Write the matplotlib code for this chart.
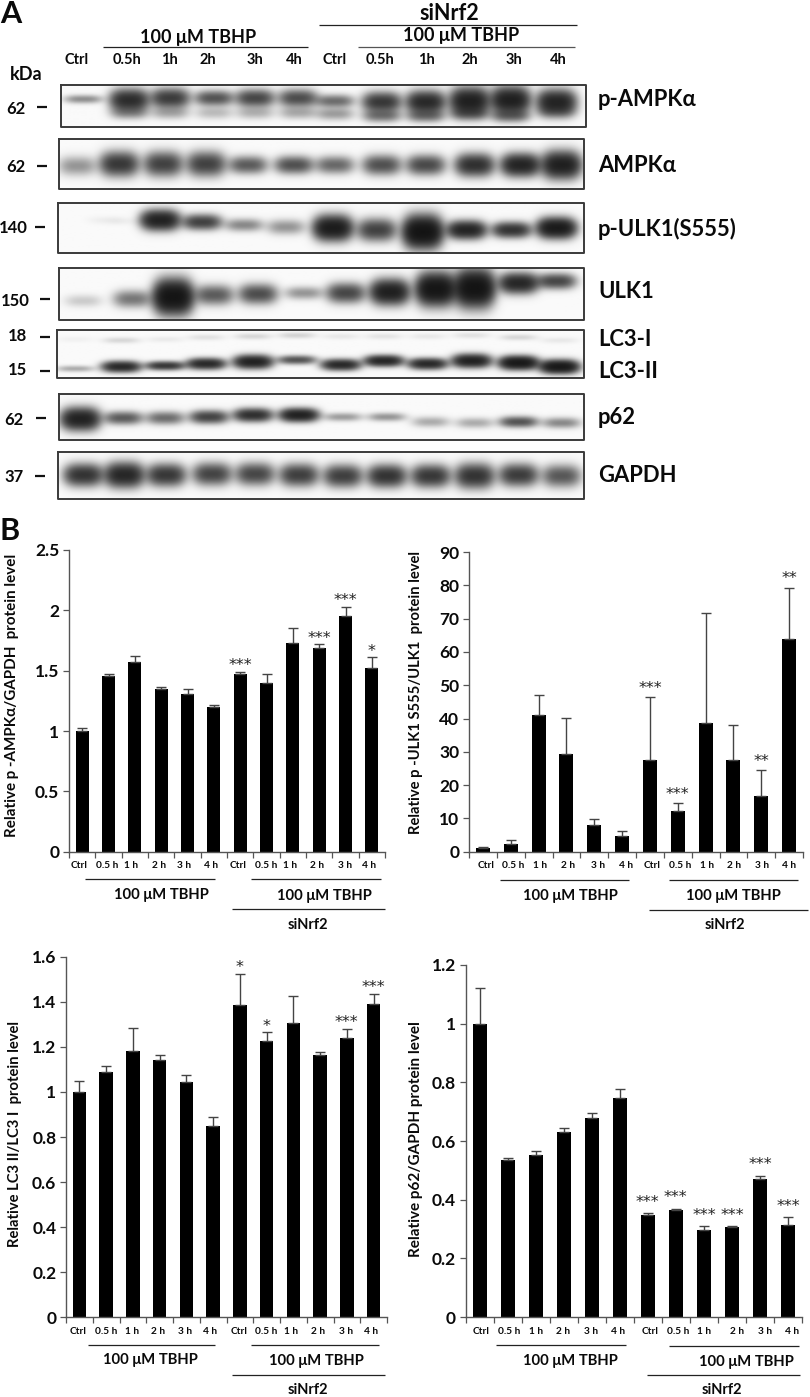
import numpy as np
import matplotlib
matplotlib.use("Agg")
import matplotlib.pyplot as plt

plt.rcParams['font.family'] = ['Lato', 'DejaVu Sans']
plt.rcParams['font.weight'] = 'bold'

W, H = 810, 1397

# ---- western blot panels: lane x, band y, intensity, half height ----
ampk_p_x = [83, 129, 170, 214, 255, 298, 335, 382, 426, 470, 511, 557]
ampk_p_y = [99, 100, 98, 98, 98, 98, 101, 102, 102, 101, 100, 102]
ampk_p_i = [0.6, 2.0, 1.6, 1.2, 1.4, 1.3, 0.9, 1.7, 2.1, 2.5, 2.5, 2.3]
ampk_p_h = [4, 10, 9, 7, 8, 8, 6, 9, 10, 12, 12, 11]
ampk_p2_y = [114, 113, 113, 113, 113, 113, 114, 116, 116, 114, 116, 112]
ampk_p2_i = [0.0, 0.5, 0.4, 0.3, 0.35, 0.4, 0.5, 0.8, 0.8, 0.7, 0.8, 0.4]

ampk_x = [77, 119, 163, 206, 248, 294, 335, 382, 426, 475, 521, 562]
ampk_y = [166, 164, 164, 164, 165, 165, 165, 165, 165, 165, 165, 165]
ampk_i = [0.55, 1.7, 1.5, 1.5, 1.1, 1.25, 0.95, 1.25, 1.35, 1.9, 2.3, 2.5]
ampk_h = [9, 11, 11, 11, 8, 8, 8, 9, 9, 10, 10, 12]

ulk_p_x = [106, 124, 160, 202, 244, 286, 333, 377, 423, 467, 512, 557]
ulk_p_y = [220, 221, 220, 222, 225, 227, 228, 230, 232, 230, 230, 228]
ulk_p_i = [0.05, 0.04, 2.4, 1.5, 0.65, 0.55, 2.7, 1.5, 3.4, 2.3, 1.8, 2.8]
ulk_p_h = [4, 4, 9, 7, 6, 7, 11, 10, 14, 8, 7, 9]

ulk_x = [83, 132, 173, 214, 258, 304, 346, 390, 436, 475, 519, 557]
ulk_y = [301, 299, 297, 295, 294, 293, 293, 292, 289, 288, 283, 281]
ulk_i = [0.22, 0.8, 3.3, 1.1, 1.3, 0.55, 1.4, 2.5, 3.2, 3.4, 2.2, 1.4]
ulk_h = [6, 8, 15, 9, 9, 6, 9, 11, 14, 16, 9, 7]

lc3_x = [75, 121, 165, 206, 253, 297, 341, 384, 428, 472, 519, 560]
lc3_y = [369, 367, 366, 364, 362, 360, 365, 361, 364, 361, 363, 367]
lc3_i = [0.4, 2.1, 1.7, 2.1, 2.4, 1.2, 2.1, 2.2, 2.1, 2.4, 2.9, 2.9]
lc3_h = [3, 5, 4, 5, 6, 4, 5, 5, 5, 6, 6, 6]
lc3_1_y = [339, 340, 339, 337, 336, 335, 336, 336, 336, 335, 337, 340]
lc3_1_i = [0.04, 0.16, 0.07, 0.11, 0.16, 0.18, 0.08, 0.1, 0.08, 0.11, 0.16, 0.08]

p62_x = [80, 123, 165, 209, 253, 299, 343, 387, 431, 475, 519, 562]
p62_y = [419, 418, 418, 417, 415, 415, 417, 417, 422, 423, 422, 423]
p62_i = [2.4, 1.1, 0.9, 1.45, 1.9, 2.4, 0.5, 0.55, 0.4, 0.4, 1.2, 0.65]
p62_h = [10, 6, 6, 6, 6, 6, 4, 4, 5, 5, 5, 5]

gapdh_x = [83, 124, 166, 212, 255, 299, 343, 387, 431, 475, 519, 562]
gapdh_y = [475, 475, 475, 474, 474, 475, 476, 476, 476, 476, 475, 476]
gapdh_i = [1.8, 2.2, 1.7, 1.45, 1.4, 1.55, 1.55, 1.8, 1.7, 1.8, 1.6, 1.15]
gapdh_h = [10, 11, 10, 10, 10, 10, 10, 10, 10, 11, 10, 10]

# ---- bar chart values ----
hours = ['Ctrl', '0.5 h', '1 h', '2 h', '3 h', '4 h'] * 2

ampk_vals = [1.0, 1.46, 1.57, 1.345, 1.305, 1.2, 1.47, 1.395, 1.73, 1.69, 1.95, 1.52]
ampk_errs = [0.025, 0.015, 0.05, 0.02, 0.045, 0.015, 0.02, 0.08, 0.125, 0.03, 0.08, 0.09]
ampk_sig = {6: '***', 9: '***', 10: '***', 11: '*'}

ulk_vals = [1.2, 2.2, 41.2, 29.4, 8, 4.6, 27.4, 12.2, 38.5, 27.4, 16.8, 63.8]
ulk_errs = [0.2, 1.2, 6, 10.8, 1.9, 1.5, 19, 2.3, 33.2, 10.5, 7.6, 15.5]
ulk_sig = {6: '***', 7: '***', 10: '**', 11: '**'}

lc3_vals = [1.0, 1.09, 1.18, 1.14, 1.045, 0.85, 1.385, 1.225, 1.305, 1.165, 1.24, 1.39]
lc3_errs = [0.05, 0.025, 0.105, 0.025, 0.03, 0.04, 0.14, 0.04, 0.12, 0.012, 0.04, 0.045]
lc3_sig = {6: '*', 7: '*', 10: '***', 11: '***'}

p62_vals = [1.0, 0.535, 0.553, 0.63, 0.677, 0.748, 0.347, 0.365, 0.295, 0.308, 0.47, 0.315]
p62_errs = [0.12, 0.007, 0.012, 0.013, 0.018, 0.03, 0.006, 0.004, 0.015, 0.002, 0.012, 0.025]
p62_sig = {6: '***', 7: '***', 8: '***', 9: '***', 10: '***', 11: '***'}

fig = plt.figure(figsize=(W / 100, H / 100), dpi=100)

# overlay in image pixels for the blots and free text
ov = fig.add_axes([0, 0, 1, 1], zorder=5)
ov.set_xlim(0, W)
ov.set_ylim(H, 0)
ov.axis('off')
ov.patch.set_alpha(0)


def txt(x, y, s, size=9, ha='center', **kw):
    ov.text(x, y, s, fontsize=size, ha=ha, va='center', fontweight='bold', color='#0a0a0a', **kw)


def hline(x0, x1, y, lw=0.9, color='#222222'):
    ov.plot([x0, x1], [y, y], color=color, lw=lw, solid_capstyle='butt')


def blot(box, bands, bw=18, bg=0.93):
    """bands: list of (xs, ys, intensities, half heights)"""
    x0, x1, y0, y1 = box
    xx, yy = np.meshgrid(np.arange(x0, x1 + 1), np.arange(y0, y1 + 1))
    dens = np.zeros(xx.shape)
    for xs, ys, ints, hs in bands:
        for cx, cy, amp, hh in zip(xs, ys, ints, hs):
            dens += amp * np.exp(-(np.abs(xx - cx) / bw) ** 3) * np.exp(-((yy - cy) / hh) ** 2)
    ov.imshow(bg * np.exp(-dens) + 0.05, cmap='gray', vmin=0, vmax=1, extent=(x0, x1, y1, y0),
              aspect='auto', interpolation='bilinear', zorder=1)
    ov.plot([x0, x1, x1, x0, x0], [y0, y0, y1, y1, y0], color='#3a3a3a', lw=1.4, zorder=2)


blot((61, 586, 85, 127), [(ampk_p_x, ampk_p_y, ampk_p_i, ampk_p_h),
                          (ampk_p_x, ampk_p2_y, ampk_p2_i, [6] * 12)])
blot((59, 584, 139, 189), [(ampk_x, ampk_y, ampk_i, ampk_h)])
blot((58, 584, 203, 253), [(ulk_p_x, ulk_p_y, ulk_p_i, ulk_p_h)])
blot((59, 584, 268, 320), [(ulk_x, ulk_y, ulk_i, ulk_h)])
blot((57, 584, 330, 378), [(lc3_x, lc3_y, lc3_i, lc3_h),
                           (lc3_x, lc3_1_y, lc3_1_i, [3] * 12)])
blot((59, 584, 394, 440), [(p62_x, p62_y, p62_i, p62_h)])
blot((58, 584, 452, 499), [(gapdh_x, gapdh_y, gapdh_i, gapdh_h)])
ov.set_xlim(0, W)
ov.set_ylim(H, 0)

# panel A header
txt(11, 14, 'A', 22)
txt(10, 531, 'B', 22)
txt(449, 13, 'siNrf2', 15.5)
hline(319, 577, 25)
txt(198, 37, '100 μM TBHP', 13)
hline(103, 308, 47)
txt(461, 36, '100 μM TBHP', 13)
hline(358, 575, 47, color='#555555')
lane_labels = ['Ctrl', '0.5h', '1h', '2h', '3h', '4h'] * 2
lane_label_x = [77, 127, 169, 208, 255, 294, 335, 380, 426, 470, 514, 558]
for lx, s in zip(lane_label_x, lane_labels):
    txt(lx, 60, s, 10.5)
txt(26, 75, 'kDa', 13)

# markers and protein names
for lab, lx, ly, d0, d1, dy in [('62', 16, 109, 37, 47, 107), ('62', 16, 167, 37, 47, 166),
                                ('140', 13, 228, 35, 45, 227), ('150', 15, 301, 40, 50, 299),
                                ('18', 17, 336, 40, 50, 337), ('15', 17, 370, 40, 50, 371),
                                ('62', 14, 420, 36, 46, 418), ('37', 14, 477, 35, 45, 476)]:
    txt(lx, ly, lab, 12)
    hline(d0, d1, dy, lw=1.6, color='#111111')
for lab, ly in [('p-AMPKα', 99), ('AMPKα', 166), ('p-ULK1(S555)', 229), ('ULK1', 292),
                ('LC3-I', 340), ('LC3-II', 372), ('p62', 417), ('GAPDH', 475)]:
    txt(598, ly, lab, 15.8, ha='left')


def chart(x0, x1, y_top, y_zero, vals, errs, sig, ymax, ticks, ticklabels, ylabel, ylab_x, ylab_y,
          label_x, label_y, star_off):
    ax = fig.add_axes([x0 / W, 1 - y_zero / H, (x1 - x0) / W, (y_zero - y_top) / H])
    xs = np.arange(12) + 0.5
    ax.bar(xs, vals, width=0.5, color='black')
    ax.errorbar(xs, vals, yerr=[np.zeros(12), errs], fmt='none', ecolor='#444444',
                elinewidth=1, capsize=3.5, capthick=1)
    ax.set_xlim(0, 12)
    ax.set_ylim(0, ymax)
    ax.set_xticks(np.arange(13))
    ax.set_xticklabels([])
    ax.set_yticks(ticks)
    ax.set_yticklabels(ticklabels, fontsize=12.5, fontweight='bold', color='#0a0a0a')
    ax.tick_params(axis='both', length=4, width=0.9, color='#555555', pad=3)
    for side in ['top', 'right']:
        ax.spines[side].set_visible(False)
    for side in ['left', 'bottom']:
        ax.spines[side].set_color('#555555')
        ax.spines[side].set_linewidth(1)
    for lx, s in zip(label_x, hours):
        txt(lx, label_y, s, 7.3)
    # stars sit a fixed distance above the error bar
    scale = (y_zero - y_top) / ymax
    for i, s in sig.items():
        ov.text(x0 + (x1 - x0) * xs[i] / 12,
                y_zero - (vals[i] + errs[i]) * scale - star_off, s, fontsize=11.5,
                family='DejaVu Sans', fontweight='normal', ha='center', va='center', color='#222222')
    txt(ylab_x, ylab_y, ylabel, ylab_size[ylabel], rotation=90)


ylab_size = {'Relative p -AMPKα/GAPDH  protein level': 10.9,
             'Relative p -ULK1 S555/ULK1  protein level': 10.6,
             'Relative LC3 II/LC3 I  protein level': 10.6,
             'Relative p62/GAPDH protein level': 11.0}

chart(69, 385, 550, 851.7, ampk_vals, ampk_errs, ampk_sig, 2.5,
      [0, 0.5, 1, 1.5, 2, 2.5], ['0', '0.5', '1', '1.5', '2', '2.5'],
      'Relative p -AMPKα/GAPDH  protein level', 12, 695,
      [79, 107, 131, 159, 184, 211, 238, 266, 290, 317, 345, 369], 866, 6)
chart(469, 803, 552, 851.7, ulk_vals, ulk_errs, ulk_sig, 90,
      list(range(0, 100, 10)), [str(v) for v in range(0, 100, 10)],
      'Relative p -ULK1 S555/ULK1  protein level', 416, 692,
      [486, 513, 540, 568, 598, 626, 652, 680, 707, 734, 762, 789], 866, 9)
chart(66, 387, 956.7, 1317.3, lc3_vals, lc3_errs, lc3_sig, 1.6,
      [0, 0.2, 0.4, 0.6, 0.8, 1, 1.2, 1.4, 1.6], ['0', '0.2', '0.4', '0.6', '0.8', '1', '1.2', '1.4', '1.6'],
      'Relative LC3 II/LC3 I  protein level', 15, 1134,
      [78, 106, 132, 158, 185, 210, 239, 266, 291, 318, 346, 371], 1331, 6)
chart(465.7, 802, 965, 1317, p62_vals, p62_errs, p62_sig, 1.2,
      [0, 0.2, 0.4, 0.6, 0.8, 1, 1.2], ['0', '0.2', '0.4', '0.6', '0.8', '1', '1.2'],
      'Relative p62/GAPDH protein level', 416, 1139,
      [481, 509, 536, 563, 591, 618, 650, 678, 704, 737, 765, 792], 1331, 11)

# treatment brackets under each chart
for l1, t1, l2, t2, l3, s3 in [((85, 215, 879), (161, 895), (251, 381, 879), (324, 896), (232, 385, 909), (308, 925)),
                               ((500, 629, 879.5), (570, 896), (669, 798, 880), (733, 896), (649, 808, 910), (725, 925)),
                               ((88, 215, 1345), (150, 1360), (251, 379, 1345), (316, 1361), (232, 385, 1375), (308, 1390)),
                               ((496, 626, 1345), (570, 1361), (669, 799, 1346), (746, 1362), (647, 800, 1375), (722, 1390))]:
    hline(*l1)
    hline(*l2)
    hline(*l3)
    txt(t1[0], t1[1], '100 μM TBHP', 10.6)
    txt(t2[0], t2[1], '100 μM TBHP', 10.6)
    txt(s3[0], s3[1], 'siNrf2', 10.5)

fig.savefig('out.png', dpi=100)
